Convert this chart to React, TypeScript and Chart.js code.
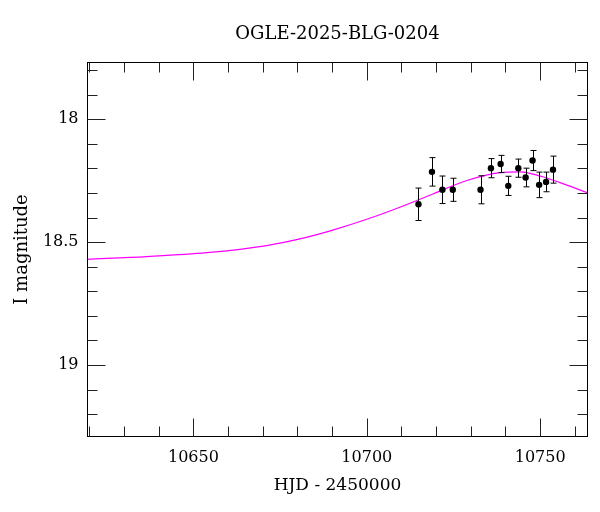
import React, { useEffect, useRef } from "react";
import { Chart, registerables } from "chart.js";

Chart.register(...registerables);

const TITLE = "OGLE-2025-BLG-0204";
const X_TITLE = "HJD - 2450000";
const Y_TITLE = "I magnitude";

// Observations
const obsHJD = [10714.9, 10718.8, 10721.8, 10724.8, 10732.8, 10735.8, 10738.6, 10740.8, 10743.7, 10745.8, 10747.8, 10749.7, 10751.7, 10753.7];
const obsMag = [18.346, 18.214, 18.287, 18.287, 18.287, 18.199, 18.182, 18.271, 18.199, 18.237, 18.168, 18.267, 18.255, 18.205];
const obsErr = [0.066, 0.058, 0.056, 0.047, 0.057, 0.039, 0.035, 0.039, 0.037, 0.038, 0.041, 0.052, 0.040, 0.055];

// Model curve
const modelHJD = [10619.29, 10636.52, 10653.84, 10671.15, 10680.67, 10690.19, 10700.0, 10709.53, 10719.05, 10728.87, 10738.4, 10744.17, 10749.94, 10755.72, 10763.65];
const modelMag = [18.570, 18.559, 18.543, 18.514, 18.487, 18.451, 18.407, 18.358, 18.304, 18.249, 18.217, 18.214, 18.231, 18.258, 18.299];

const X_MIN = 10619.45;
const X_MAX = 10763.65;
const Y_MIN = 17.769;
const Y_MAX = 19.291;
const X_MAJOR = 50;
const X_STEP = 10;
const Y_STEP = 0.1;
const Y_MAJOR = 0.5;

const FONT = "'DejaVu Serif', serif";

const isMajor = (v: number, m: number) => Math.abs(v / m - Math.round(v / m)) < 1e-6;

const framePlugin = {
  id: "frameTicks",
  afterDraw(chart: any) {
    const { ctx, chartArea } = chart;
    const { left, right, top, bottom } = chartArea;
    const xs = chart.scales.x;
    const ys = chart.scales.y;
    ctx.save();
    ctx.strokeStyle = "#000";
    ctx.lineWidth = 1;
    ctx.strokeRect(left, top, right - left, bottom - top);
    ctx.strokeStyle = "#222";
    ctx.beginPath();
    xs.ticks.forEach((t: any) => {
      const px = Math.round(xs.getPixelForValue(t.value)) + 0.5;
      const len = isMajor(t.value, X_MAJOR) ? 18 : 10;
      ctx.moveTo(px, bottom);
      ctx.lineTo(px, bottom - len);
      ctx.moveTo(px, top);
      ctx.lineTo(px, top + len);
    });
    ys.ticks.forEach((t: any) => {
      const py = Math.round(ys.getPixelForValue(t.value)) + 0.5;
      const len = isMajor(t.value, Y_MAJOR) ? 18 : 10;
      ctx.moveTo(left, py);
      ctx.lineTo(left + len, py);
      ctx.moveTo(right, py);
      ctx.lineTo(right - len, py);
    });
    ctx.stroke();
    ctx.restore();
  },
  afterDatasetsDraw(chart: any) {
    const { ctx, chartArea } = chart;
    const xs = chart.scales.x;
    const ys = chart.scales.y;
    ctx.save();
    ctx.beginPath();
    ctx.rect(chartArea.left, chartArea.top, chartArea.right - chartArea.left, chartArea.bottom - chartArea.top);
    ctx.clip();
    ctx.strokeStyle = "#000";
    ctx.lineWidth = 1;
    ctx.beginPath();
    obsHJD.forEach((h, i) => {
      const px = Math.round(xs.getPixelForValue(h)) + 0.5;
      const y1 = ys.getPixelForValue(obsMag[i] - obsErr[i]);
      const y2 = ys.getPixelForValue(obsMag[i] + obsErr[i]);
      ctx.moveTo(px, y1);
      ctx.lineTo(px, y2);
      ctx.moveTo(px - 3, y1);
      ctx.lineTo(px + 3, y1);
      ctx.moveTo(px - 3, y2);
      ctx.lineTo(px + 3, y2);
    });
    ctx.stroke();
    ctx.restore();
  },
};

export default function App() {
  const ref = useRef<HTMLCanvasElement | null>(null);

  useEffect(() => {
    if (!ref.current) return;
    const chart = new Chart(ref.current, {
      type: "scatter",
      data: {
        datasets: [
          {
            type: "scatter",
            label: "data",
            data: obsHJD.map((h, i) => ({ x: h, y: obsMag[i] })),
            pointRadius: 3.2,
            pointBackgroundColor: "#000",
            pointBorderWidth: 0,
            order: 0,
          },
          {
            type: "line",
            label: "model",
            data: modelHJD.map((h, i) => ({ x: h, y: modelMag[i] })),
            borderColor: "#ff00ff",
            borderWidth: 1.2,
            pointRadius: 0,
            cubicInterpolationMode: "monotone",
            fill: false,
            order: 1,
          },
        ],
      },
      options: {
        animation: false,
        responsive: false,
        devicePixelRatio: 1,
        layout: { padding: { left: 0, right: 12.5, top: 0, bottom: 0 } },
        plugins: {
          legend: { display: false },
          tooltip: { enabled: false },
          title: {
            display: true,
            text: TITLE,
            fullSize: false,
            color: "#000",
            font: { family: FONT, size: 18, weight: "normal" },
            padding: { top: 24, bottom: 16.9 },
          },
        },
        scales: {
          x: {
            type: "linear",
            position: "bottom",
            min: X_MIN,
            max: X_MAX,
            grid: { display: false, drawTicks: false },
            border: { display: false },
            ticks: {
              stepSize: X_STEP,
              includeBounds: false,
              autoSkip: false,
              maxRotation: 0,
              padding: 12,
              color: "#000",
              font: { family: FONT, size: 16 },
              callback: (v: any) => (isMajor(Number(v), X_MAJOR) ? String(Math.round(Number(v))) : ""),
            },
            title: {
              display: true,
              text: X_TITLE,
              color: "#000",
              font: { family: FONT, size: 17 },
              padding: { top: 0, bottom: 16 },
            },
            afterFit: (s: any) => {
              s.height = 75.5;
            },
          },
          y: {
            type: "linear",
            position: "left",
            reverse: true,
            min: Y_MIN,
            max: Y_MAX,
            grid: { display: false, drawTicks: false },
            border: { display: false },
            ticks: {
              stepSize: Y_STEP,
              includeBounds: false,
              autoSkip: false,
              padding: 9,
              color: "#000",
              font: { family: FONT, size: 16 },
              callback: (v: any) => {
                const n = Number(v);
                return isMajor(n, Y_MAJOR) ? String(Math.round(n * 10) / 10) : "";
              },
            },
            title: {
              display: true,
              text: Y_TITLE,
              color: "#000",
              font: { family: FONT, size: 18 },
              padding: { top: 12, bottom: 0 },
            },
            afterFit: (s: any) => {
              s.width = 87.5;
            },
          },
        },
      },
      plugins: [framePlugin],
    } as any);
    return () => chart.destroy();
  }, []);

  return (
    <div style={{ position: "absolute", left: 0, top: 0, width: 600, height: 512, background: "#fff" }}>
      <canvas ref={ref} width={600} height={512} />
    </div>
  );
}
